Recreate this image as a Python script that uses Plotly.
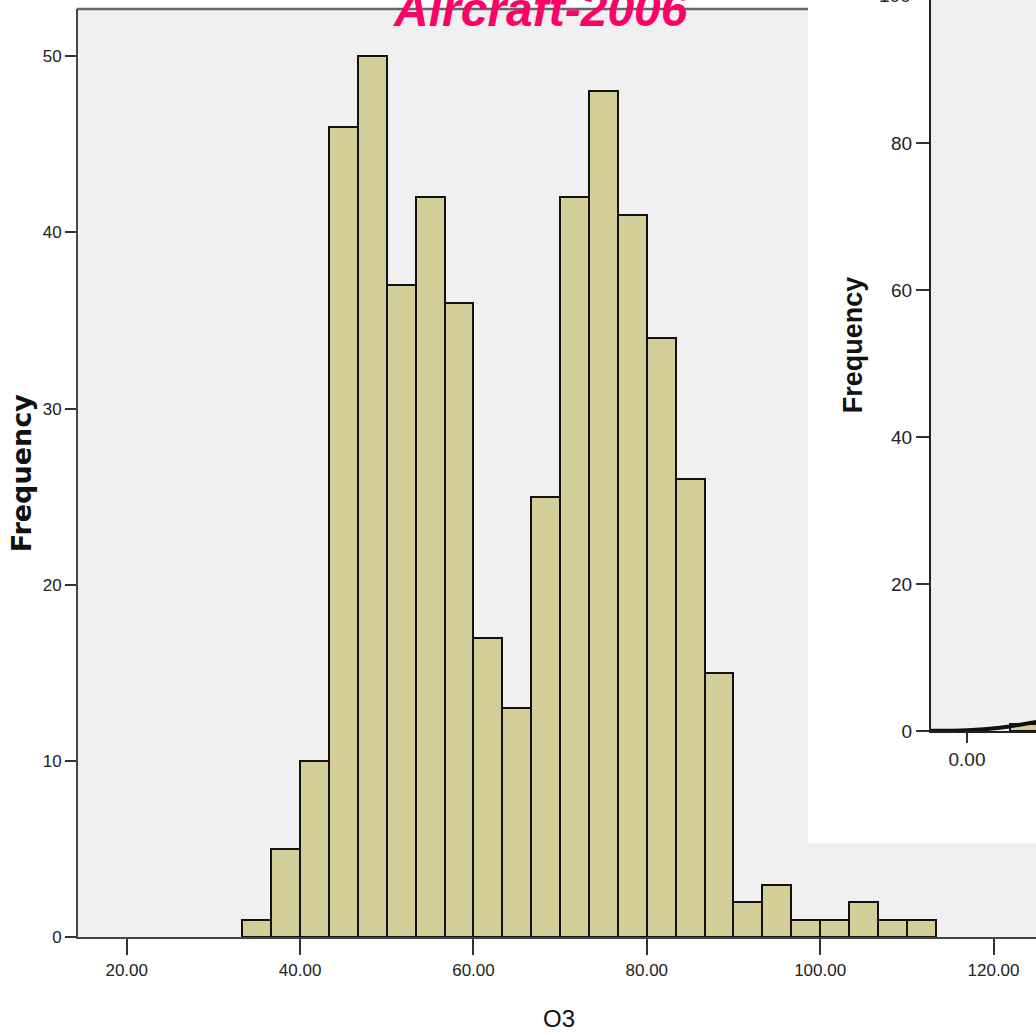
import plotly.graph_objects as go

W, H = 1036, 1035
H_EFF = 1023.5   # vertical extent actually used when the page is photographed

# ---- main histogram data (O3, Aircraft-2006) ----
bin_start = 100 / 3          # first bin left edge
bin_width = 10 / 3
counts = [1, 5, 10, 46, 50, 37, 42, 36, 17, 13, 25, 42, 48, 41, 34, 26, 15,
          2, 3, 1, 1, 2, 1, 1]
x_ticks = [20, 40, 60, 80, 100, 120]
y_ticks = [0, 10, 20, 30, 40, 50]

# ---- inset (partially visible second chart) ----
inset_bar_x = [1.5]
inset_bar_w = [0.85]
inset_bar_y = [1]
inset_curve_x = [-0.9, 0.0, 0.825, 1.075, 1.725]
inset_curve_y = [0.07, 0.14, 0.48, 0.68, 1.29]
inset_y_ticks = [0, 20, 40, 60, 80]

centers = [bin_start + bin_width * (i + 0.5) for i in range(len(counts))]

def px(x):
    return x / W

def py(y):
    return 1 - y / H_EFF

TAN = "#d3ce97"
BG = "#f0f0f0"
TICKFONT = dict(family="Liberation Sans, Arial, sans-serif", size=17, color="#222")
INSETFONT = dict(family="Liberation Sans, Arial, sans-serif", size=19, color="#222")

fig = go.Figure()
fig.add_trace(go.Bar(x=centers, y=counts, width=[bin_width] * len(counts),
                     marker=dict(color=TAN, line=dict(color="#111", width=2)),
                     xaxis="x", yaxis="y", showlegend=False))
fig.add_trace(go.Bar(x=inset_bar_x, y=inset_bar_y, width=inset_bar_w,
                     marker=dict(color=TAN, line=dict(color="#111", width=2)),
                     xaxis="x2", yaxis="y2", showlegend=False))
fig.add_trace(go.Scatter(x=inset_curve_x, y=inset_curve_y, mode="lines",
                         line=dict(color="#111", width=4, shape="spline"),
                         xaxis="x2", yaxis="y2", showlegend=False))

fig.update_layout(
    width=W, height=H,
    margin=dict(l=0, r=0, t=0, b=0),
    paper_bgcolor="white",
    plot_bgcolor=BG,
    bargap=0,
    xaxis=dict(domain=[px(78), 1], range=[14.38, 124.9], tickvals=x_ticks,
               tickformat=".2f", ticks="outside", ticklen=16, tickwidth=2,
               tickcolor="#333", showline=True, linecolor="#444", linewidth=2,
               showgrid=False, zeroline=False, tickfont=TICKFONT, anchor="y"),
    yaxis=dict(domain=[py(937), py(9)], range=[0, 52.67], tickvals=y_ticks,
               ticks="outside", ticklen=11, tickwidth=2, tickcolor="#333",
               showline=True, linecolor="#444", linewidth=2,
               showgrid=False, zeroline=False, tickfont=TICKFONT, anchor="x"),
    xaxis2=dict(domain=[px(931), 1], range=[-0.9, 1.725], tickvals=[0],
                tickformat=".2f", ticks="outside", ticklen=10, tickwidth=2,
                tickcolor="#333", showline=True, linecolor="#222", linewidth=2,
                showgrid=False, zeroline=False, tickfont=INSETFONT, anchor="y2"),
    yaxis2=dict(domain=[py(731), 1], range=[0, 99.46], tickvals=inset_y_ticks,
                ticks="outside", ticklen=13, tickwidth=2, tickcolor="#333",
                showline=True, linecolor="#222", linewidth=2,
                showgrid=False, zeroline=False, tickfont=INSETFONT, anchor="x2"),
    shapes=[
        # top border of main plot
        dict(type="line", xref="paper", yref="paper", x0=px(77), x1=px(808),
             y0=py(9), y1=py(9), line=dict(color="#666", width=2.5), layer="below"),
        # white panel of the overlapping second chart
        dict(type="rect", xref="paper", yref="paper", x0=px(808), x1=1.01,
             y0=py(843), y1=1.01, fillcolor="white", line=dict(width=0), layer="below"),
        # inset plot background
        dict(type="rect", xref="paper", yref="paper", x0=px(931), x1=1.01,
             y0=py(731), y1=1.01, fillcolor=BG, line=dict(width=0), layer="below"),
    ],
    annotations=[
        dict(text="<b><i>Aircraft-2006</i></b>", xref="paper", yref="paper",
             x=px(540), y=py(38), xanchor="center", yanchor="bottom", showarrow=False,
             font=dict(family="Liberation Sans, Arial, sans-serif", size=48, color="#ff0066")),
        dict(text="<b>Frequency</b>", xref="paper", yref="paper", textangle=-90,
             x=px(21), y=py(473), xanchor="center", yanchor="middle", showarrow=False,
             font=dict(family="DejaVu Sans, Verdana, sans-serif", size=27, color="#111")),
        dict(text="O3", xref="paper", yref="paper",
             x=px(559), y=py(1018), xanchor="center", yanchor="middle", showarrow=False,
             font=dict(family="Liberation Sans, Arial, sans-serif", size=24, color="#111")),
        dict(text="<b>Frequency</b>", xref="paper", yref="paper", textangle=-90,
             x=px(853), y=py(345), xanchor="center", yanchor="middle", showarrow=False,
             font=dict(family="Liberation Sans, Arial, sans-serif", size=27, color="#111")),
        dict(text="100", xref="paper", yref="paper",
             x=px(913), y=py(-4), xanchor="right", yanchor="middle", showarrow=False,
             font=INSETFONT),
    ],
)

fig.write_html("out.html")
